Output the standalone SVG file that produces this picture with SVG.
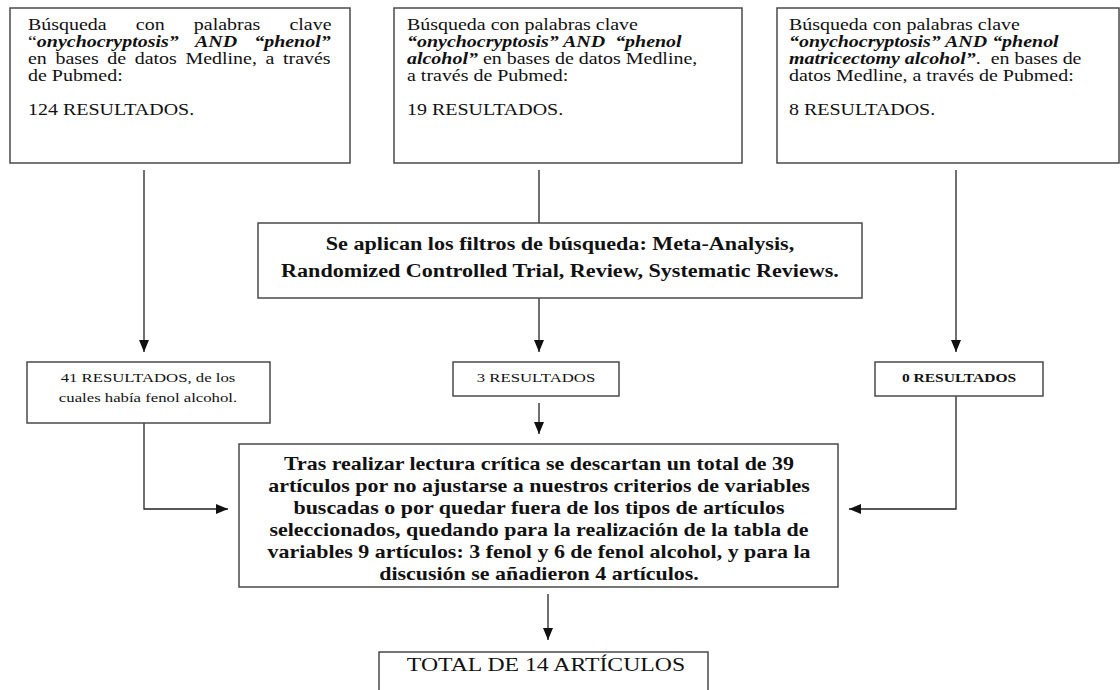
<svg xmlns="http://www.w3.org/2000/svg" width="1120" height="690" viewBox="0 0 1120 690">
<defs>
<style>
.box{fill:#fff;stroke:#4a4a4a;stroke-width:1.5}
.t{font-family:"Liberation Serif","Times New Roman",serif;fill:#111;white-space:pre}
.s16{font-size:16.5px}
.s13{font-size:13.5px}
.s18{font-size:18px}
.b{font-weight:bold}
.bi{font-weight:bold;font-style:italic}
.con{fill:none;stroke:#222;stroke-width:1.3}
</style>
<marker id="ah" markerUnits="userSpaceOnUse" markerWidth="12" markerHeight="10" refX="12" refY="5" orient="auto">
<path d="M0,0 L12,5 L0,10 z" fill="#111"/>
</marker>
</defs>
<rect width="1120" height="690" fill="#fff"/>

<g id="connectors">
<path class="con" d="M144,170 V352" marker-end="url(#ah)"/>
<path class="con" d="M539,170 V223"/>
<path class="con" d="M956,170 V352" marker-end="url(#ah)"/>
<path class="con" d="M539,298 V352" marker-end="url(#ah)"/>
<path class="con" d="M539,403 V434" marker-end="url(#ah)"/>
<path class="con" d="M144,423 V509 H228" marker-end="url(#ah)"/>
<path class="con" d="M956,396 V509 H849" marker-end="url(#ah)"/>
<path class="con" d="M548,594 V640" marker-end="url(#ah)"/>
</g>

<g id="search1">
<rect class="box" x="10" y="8" width="340" height="155"/>
<text class="t s16" transform="translate(28 30) scale(1.21 1)" word-spacing="20">Búsqueda con palabras clave</text>
<text class="t s16" transform="translate(28 47) scale(1.21 1)" word-spacing="10">“<tspan class="bi">onychocryptosis” AND “phenol”</tspan></text>
<text class="t s16" transform="translate(28 64) scale(1.21 1)" word-spacing="3">en bases de datos Medline, a través</text>
<text class="t s16" transform="translate(28 81) scale(1.21 1)">de Pubmed:</text>
<text class="t s16" transform="translate(28 115) scale(1.21 1)">124 RESULTADOS.</text>
</g>

<g id="search2">
<rect class="box" x="394" y="8" width="348" height="155"/>
<text class="t s16" transform="translate(407 30) scale(1.21 1)">Búsqueda con palabras clave</text>
<text class="t s16 bi" transform="translate(407 47) scale(1.21 1)">“onychocryptosis” AND  “phenol</text>
<text class="t s16" transform="translate(407 64) scale(1.21 1)"><tspan class="bi">alcohol”</tspan> en bases de datos Medline,</text>
<text class="t s16" transform="translate(407 81) scale(1.21 1)">a través de Pubmed:</text>
<text class="t s16" transform="translate(407 115) scale(1.21 1)">19 RESULTADOS.</text>
</g>

<g id="search3">
<rect class="box" x="777" y="8" width="342" height="155"/>
<text class="t s16" transform="translate(789 30) scale(1.21 1)">Búsqueda con palabras clave</text>
<text class="t s16 bi" transform="translate(789 47) scale(1.21 1)">“onychocryptosis” AND “phenol</text>
<text class="t s16" transform="translate(789 64) scale(1.21 1)"><tspan class="bi">matricectomy alcohol”</tspan>.  en bases de</text>
<text class="t s16" transform="translate(789 81) scale(1.21 1)">datos Medline, a través de Pubmed:</text>
<text class="t s16" transform="translate(789 115) scale(1.21 1)">8 RESULTADOS.</text>
</g>

<g id="filters">
<rect class="box" x="258" y="223" width="604" height="75"/>
<text class="t s18 b" text-anchor="middle" transform="translate(560 250) scale(1.23 1)">Se aplican los filtros de búsqueda: Meta-Analysis,</text>
<text class="t s18 b" text-anchor="middle" transform="translate(560 277) scale(1.23 1)">Randomized Controlled Trial, Review, Systematic Reviews.</text>
</g>

<g id="result41">
<rect class="box" x="27" y="362" width="243" height="61"/>
<text class="t s13" text-anchor="middle" transform="translate(148 382) scale(1.24 1)">41 RESULTADOS, de los</text>
<text class="t s13" text-anchor="middle" transform="translate(148 402) scale(1.24 1)">cuales había fenol alcohol.</text>
</g>

<g id="result3">
<rect class="box" x="453" y="362" width="166" height="34"/>
<text class="t s13" text-anchor="middle" transform="translate(536 382) scale(1.24 1)">3 RESULTADOS</text>
</g>

<g id="result0">
<rect class="box" x="875" y="362" width="168" height="34"/>
<text class="t s13 b" text-anchor="middle" transform="translate(959 382) scale(1.15 1)">0 RESULTADOS</text>
</g>

<g id="critical">
<rect class="box" x="239" y="444" width="599" height="143"/>
<text class="t s18 b" text-anchor="middle" transform="translate(539 470) scale(1.22 1)">Tras realizar lectura crítica se descartan un total de 39</text>
<text class="t s18 b" text-anchor="middle" transform="translate(539 492) scale(1.22 1)">artículos por no ajustarse a nuestros criterios de variables</text>
<text class="t s18 b" text-anchor="middle" transform="translate(539 514) scale(1.22 1)">buscadas o por quedar fuera de los tipos de artículos</text>
<text class="t s18 b" text-anchor="middle" transform="translate(539 536) scale(1.22 1)">seleccionados, quedando para la realización de la tabla de</text>
<text class="t s18 b" text-anchor="middle" transform="translate(539 558) scale(1.22 1)">variables 9 artículos: 3 fenol y 6 de fenol alcohol, y para la</text>
<text class="t s18 b" text-anchor="middle" transform="translate(539 580) scale(1.22 1)">discusión se añadieron 4 artículos.</text>
</g>

<g id="total">
<rect class="box" x="379" y="652" width="329" height="60"/>
<text class="t s18" text-anchor="middle" transform="translate(546 671) scale(1.32 1)">TOTAL DE 14 ARTÍCULOS</text>
</g>
</svg>
